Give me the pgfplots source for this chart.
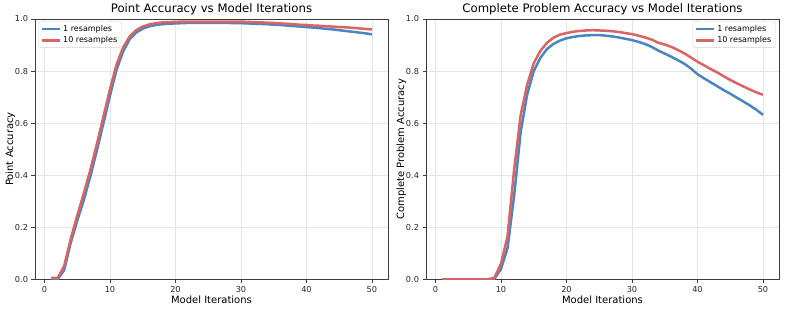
\documentclass[border=0pt]{standalone}
\usepackage{pgfplots}
\pgfplotsset{compat=1.18}
\usepackage{fontspec}
\setmainfont{DejaVu Sans}
\definecolor{cblue}{RGB}{74,133,192}
\definecolor{cred}{RGB}{216,100,100}
\definecolor{spine}{RGB}{60,60,60}
\pgfplotsset{
 every axis title/.style={font=\fontsize{11.7bp}{13bp}\selectfont, at={(0.5,1)}, anchor=base, yshift=6bp, inner sep=0pt},
 every axis x label/.style={font=\fontsize{10bp}{12bp}\selectfont, at={(0.5,0)}, anchor=base, yshift=-24bp, inner sep=0pt},
 every axis y label/.style={font=\fontsize{10bp}{12bp}\selectfont, at={(-0.0623,0.5)}, rotate=90, anchor=base, inner sep=0pt},
 myax/.style={
  scale only axis, width=353bp, height=260.3bp,
  xmin=-1.45, xmax=52.45, ymin=0, ymax=1,
  xtick={0,10,20,30,40,50}, ytick={0,0.2,0.4,0.6,0.8,1},
  yticklabel style={/pgf/number format/fixed, /pgf/number format/fixed zerofill, /pgf/number format/precision=1},
  /pgf/number format/assume math mode=true,
  ticklabel style={font=\fontsize{8.2bp}{9bp}\selectfont, text=black!85},
  tick align=outside, tick pos=left, major tick length=3.5bp,
  tick style={spine, line width=0.6bp},
  axis line style={spine, line width=0.8bp},
  grid=major, grid style={gray!20, line width=0.5bp},
  legend style={draw=gray!35, rounded corners=1.5bp, font=\fontsize{8bp}{9bp}\selectfont, inner xsep=2bp, inner ysep=1.2bp, fill=white},
  legend cell align=left,
  legend image code/.code={\draw[#1] (0bp,0bp) -- (18bp,0bp);},
  every axis plot/.append style={line width=2.5bp, line join=round},
 }
}
\begin{document}
\begin{tikzpicture}
\path[use as bounding box] (0,0) rectangle (785bp,310bp);
\begin{axis}[myax, at={(35bp,30.7bp)}, anchor=south west,
  title={Point Accuracy vs Model Iterations},
  xlabel={Model Iterations}, ylabel={Point Accuracy},
  legend style={at={(0.01,0.99)}, anchor=north west}]
\addplot[cblue] coordinates {(1,0.003)(2,0.0)(3,0.035)(4,0.14)(5,0.225)(6,0.305)(7,0.395)(8,0.495)(9,0.6)(10,0.705)(11,0.805)(12,0.875)(13,0.922)(14,0.948)(15,0.963)(16,0.972)(17,0.977)(18,0.98)(19,0.982)(20,0.983)(21,0.984)(22,0.985)(23,0.985)(24,0.985)(25,0.985)(26,0.985)(27,0.985)(28,0.985)(29,0.984)(30,0.984)(31,0.983)(32,0.982)(33,0.981)(34,0.98)(35,0.978)(36,0.977)(37,0.975)(38,0.973)(39,0.971)(40,0.969)(41,0.967)(42,0.965)(43,0.962)(44,0.96)(45,0.957)(46,0.954)(47,0.951)(48,0.948)(49,0.945)(50,0.941)};
\addlegendentry{1 resamples}
\addplot[cred] coordinates {(1,0.005)(2,0.005)(3,0.05)(4,0.155)(5,0.245)(6,0.33)(7,0.42)(8,0.52)(9,0.625)(10,0.73)(11,0.825)(12,0.89)(13,0.933)(14,0.957)(15,0.971)(16,0.979)(17,0.984)(18,0.987)(19,0.988)(20,0.989)(21,0.99)(22,0.99)(23,0.99)(24,0.99)(25,0.99)(26,0.99)(27,0.99)(28,0.99)(29,0.99)(30,0.99)(31,0.989)(32,0.988)(33,0.987)(34,0.986)(35,0.985)(36,0.983)(37,0.982)(38,0.98)(39,0.978)(40,0.977)(41,0.975)(42,0.974)(43,0.972)(44,0.971)(45,0.969)(46,0.968)(47,0.966)(48,0.964)(49,0.962)(50,0.96)};
\addlegendentry{10 resamples}
\end{axis}
\begin{axis}[myax, at={(426bp,30.7bp)}, anchor=south west,
  title={Complete Problem Accuracy vs Model Iterations},
  xlabel={Model Iterations}, ylabel={Complete Problem Accuracy},
  legend style={at={(0.99,0.99)}, anchor=north east}]
\addplot[cblue] coordinates {(1,0)(2,0)(3,0)(4,0)(5,0)(6,0)(7,0)(8,0)(9,0.002)(10,0.04)(11,0.12)(12,0.32)(13,0.565)(14,0.71)(15,0.80)(16,0.85)(17,0.884)(18,0.904)(19,0.917)(20,0.926)(21,0.931)(22,0.935)(23,0.937)(24,0.938)(25,0.938)(26,0.936)(27,0.933)(28,0.929)(29,0.924)(30,0.919)(31,0.912)(32,0.904)(33,0.893)(34,0.879)(35,0.867)(36,0.855)(37,0.842)(38,0.828)(39,0.81)(40,0.788)(41,0.772)(42,0.757)(43,0.742)(44,0.727)(45,0.713)(46,0.698)(47,0.683)(48,0.668)(49,0.651)(50,0.632)};
\addlegendentry{1 resamples}
\addplot[cred] coordinates {(1,0)(2,0)(3,0)(4,0)(5,0)(6,0)(7,0)(8,0)(9,0.006)(10,0.06)(11,0.165)(12,0.42)(13,0.63)(14,0.748)(15,0.83)(16,0.877)(17,0.908)(18,0.928)(19,0.94)(20,0.946)(21,0.951)(22,0.954)(23,0.956)(24,0.957)(25,0.956)(26,0.955)(27,0.953)(28,0.95)(29,0.946)(30,0.942)(31,0.936)(32,0.929)(33,0.921)(34,0.909)(35,0.902)(36,0.893)(37,0.881)(38,0.868)(39,0.852)(40,0.836)(41,0.822)(42,0.808)(43,0.795)(44,0.78)(45,0.766)(46,0.753)(47,0.741)(48,0.729)(49,0.718)(50,0.709)};
\addlegendentry{10 resamples}
\end{axis}
\end{tikzpicture}
\end{document}
